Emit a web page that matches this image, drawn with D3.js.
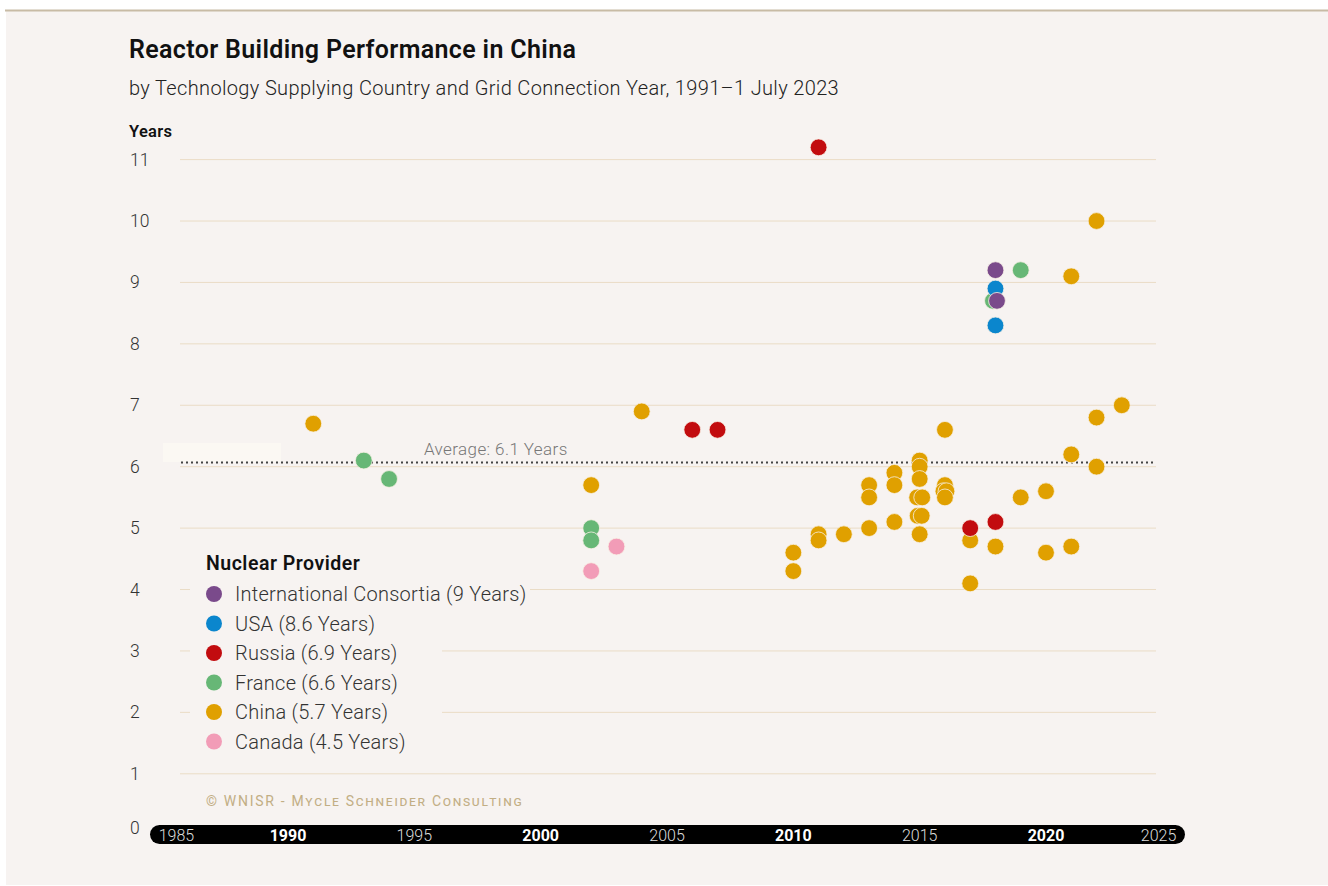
<!DOCTYPE html>
<html lang="en">
<head>
<meta charset="UTF-8">
<title>Reactor Building Performance in China</title>
<script src="https://d3js.org/d3.v7.min.js"></script>
<style>
    body {
        margin: 0;
        background: #ffffff;
        font-family: Roboto, "Noto Sans", Arial, sans-serif;
    }
    svg {
        display: block;
    }
</style>
</head>
<body>
<svg id="vis"></svg>
<script>
    const width = 1328;
    const height = 886;

    // providers, in drawing order (China first, so the others sit on top)
    const providers = ["China", "Canada", "France", "Russia", "USA", "International Consortia"];
    const legendOrder = ["International Consortia", "USA", "Russia", "France", "China", "Canada"];
    const providerAvg = { "International Consortia": "9", "USA": "8.6", "Russia": "6.9", "France": "6.6", "China": "5.7", "Canada": "4.5" };
    const colors = {
        "International Consortia": "#7a4a8b",
        "USA": "#0b86cd",
        "Russia": "#c20c0f",
        "France": "#67b776",
        "China": "#e0a000",
        "Canada": "#f29cb7"
    };

    // grid connection year / construction time in years
    const chinaYears = [1991, 2002, 2004, 2010, 2010, 2011, 2011, 2012, 2013, 2013, 2013, 2014, 2014, 2014,
        2015, 2015, 2015, 2014.9, 2015.1, 2014.92, 2015.08, 2015, 2016, 2016, 2015.94, 2016.06, 2016,
        2017, 2017, 2018, 2019, 2020, 2020, 2021, 2021, 2021, 2022, 2022, 2022, 2023];
    const chinaValues = [6.7, 5.7, 6.9, 4.6, 4.3, 4.9, 4.8, 4.9, 5.7, 5.5, 5.0, 5.9, 5.7, 5.1,
        6.1, 6.0, 5.8, 5.5, 5.5, 5.2, 5.2, 4.9, 6.6, 5.7, 5.6, 5.6, 5.5,
        4.8, 4.1, 4.7, 5.5, 5.6, 4.6, 9.1, 6.2, 4.7, 10.0, 6.8, 6.0, 7.0];
    const canadaYears = [2002, 2003];
    const canadaValues = [4.3, 4.7];
    const franceYears = [1993, 1994, 2002, 2002, 2017.9, 2019];
    const franceValues = [6.1, 5.8, 5.0, 4.8, 8.7, 9.2];
    const russiaYears = [2006, 2007, 2011, 2017, 2018];
    const russiaValues = [6.6, 6.6, 11.2, 5.0, 5.1];
    const usaYears = [2018, 2018];
    const usaValues = [8.9, 8.3];
    const consortiaYears = [2018, 2018.06];
    const consortiaValues = [9.2, 8.7];

    const average = 6.1;
    const yTicks = [0, 1, 2, 3, 4, 5, 6, 7, 8, 9, 10, 11];
    const xTicks = [1985, 1990, 1995, 2000, 2005, 2010, 2015, 2020, 2025];

    const series = {
        "China": [chinaYears, chinaValues],
        "Canada": [canadaYears, canadaValues],
        "France": [franceYears, franceValues],
        "Russia": [russiaYears, russiaValues],
        "USA": [usaYears, usaValues],
        "International Consortia": [consortiaYears, consortiaValues]
    };
    const points = [];
    providers.forEach(p => {
        const [xs, vs] = series[p];
        xs.forEach((yr, i) => points.push({ provider: p, year: yr, value: vs[i] }));
    });

    const bg = "#f7f3f1";
    const svg = d3.select("#vis").attr("width", width).attr("height", height);

    // panel
    svg.append("rect").attr("x", 6).attr("y", 11).attr("width", width - 6).attr("height", 874).attr("fill", bg);
    svg.append("line").attr("x1", 5).attr("x2", width).attr("y1", 10.5).attr("y2", 10.5)
        .attr("stroke", "#c8bba5").attr("stroke-width", 2);

    const x = d3.scaleLinear().domain([1990, 2020]).range([288, 1046]);
    const y = d3.scaleLinear().domain([0, 11]).range([835.2, 159.6]);

    // titles
    svg.append("text").attr("x", 129).attr("y", 58)
        .attr("font-size", 25).attr("font-weight", 600).attr("fill", "#111")
        .attr("letter-spacing", "0.35")
        .text("Reactor Building Performance in China");
    svg.append("text").attr("x", 129).attr("y", 95)
        .attr("font-size", 20).attr("font-weight", 300).attr("fill", "#222")
        .attr("letter-spacing", "0.35")
        .text("by Technology Supplying Country and Grid Connection Year, 1991–1 July 2023");
    svg.append("text").attr("x", 129).attr("y", 137)
        .attr("font-size", 16.5).attr("font-weight", 600).attr("fill", "#111")
        .attr("letter-spacing", "0.3")
        .text("Years");

    // grid
    const grid = svg.append("g");
    grid.selectAll("line")
        .data(yTicks.filter(d => d > 0))
        .join("line")
        .attr("x1", 180).attr("x2", 1156)
        .attr("y1", d => y(d)).attr("y2", d => y(d))
        .attr("stroke", "#eadcc6").attr("stroke-width", 1);

    svg.append("g").selectAll("text")
        .data(yTicks)
        .join("text")
        .attr("x", 130).attr("y", d => d === 0 ? y(d) - 1 : y(d) + 6)
        .attr("font-size", 17.5).attr("font-weight", 300).attr("fill", "#333")
        .text(d => d);

    // faint patch left of the average line
    svg.append("rect").attr("x", 163).attr("y", 443).attr("width", 118).attr("height", 19).attr("fill", "#fbf8f3");

    // average line
    svg.append("line")
        .attr("x1", 181).attr("x2", 1153)
        .attr("y1", y(average) + 2).attr("y2", y(average) + 2)
        .attr("stroke", "#444").attr("stroke-width", 2).attr("stroke-dasharray", "2,3");
    svg.append("text").attr("x", 424).attr("y", y(average) - 6)
        .attr("font-size", 17).attr("font-weight", 300).attr("fill", "#777")
        .attr("letter-spacing", "0.4")
        .text("Average: " + average + " Years");

    // legend background covering the grid
    svg.append("rect").attr("x", 190).attr("y", 548).attr("width", 252).attr("height", 212).attr("fill", bg);
    svg.append("rect").attr("x", 190).attr("y", 580).attr("width", 340).attr("height", 26).attr("fill", bg);

    // points
    svg.append("g").selectAll("circle")
        .data(points)
        .join("circle")
        .attr("cx", d => x(d.year))
        .attr("cy", d => y(d.value))
        .attr("r", 8.4)
        .attr("fill", d => colors[d.provider])
        .attr("stroke", "#f7f0e4")
        .attr("stroke-width", 0.8);

    // legend
    const legend = svg.append("g").attr("transform", "translate(206,570)");
    legend.append("text").attr("x", 0).attr("y", 0)
        .attr("font-size", 19.5).attr("font-weight", 600).attr("fill", "#111")
        .attr("letter-spacing", "0.5")
        .text("Nuclear Provider");
    const item = legend.selectAll("g.item")
        .data(legendOrder)
        .join("g").attr("class", "item")
        .attr("transform", (d, i) => `translate(0,${24 + i * 29.5})`);
    item.append("circle").attr("cx", 8).attr("cy", 0).attr("r", 8).attr("fill", d => colors[d]);
    item.append("text").attr("x", 29).attr("y", 7)
        .attr("font-size", 20).attr("font-weight", 300).attr("fill", "#333")
        .attr("letter-spacing", "0.25")
        .text(d => `${d} (${providerAvg[d]} Years)`);

    // credit
    svg.append("text").attr("x", 206).attr("y", 806)
        .attr("font-size", 14).attr("fill", "#c2ae84")
        .attr("letter-spacing", "1.7")
        .style("font-variant", "small-caps")
        .text("© WNISR - Mycle Schneider Consulting");

    // x axis bar
    svg.append("rect").attr("x", 150).attr("y", 825).attr("width", 1035).attr("height", 19)
        .attr("rx", 9.5).attr("fill", "#000");
    svg.append("g").selectAll("text")
        .data(xTicks)
        .join("text")
        .attr("x", d => d === 1985 ? x(d) - 3 : d === 2025 ? x(d) + 4 : x(d))
        .attr("y", 840.5)
        .attr("text-anchor", d => d === 1985 ? "start" : d === 2025 ? "end" : "middle")
        .attr("font-size", 16)
        .attr("font-weight", d => d % 10 === 0 ? 700 : 300)
        .attr("fill", d => d % 10 === 0 ? "#fff" : "#ddd")
        .text(d => d);
</script>
</body>
</html>
